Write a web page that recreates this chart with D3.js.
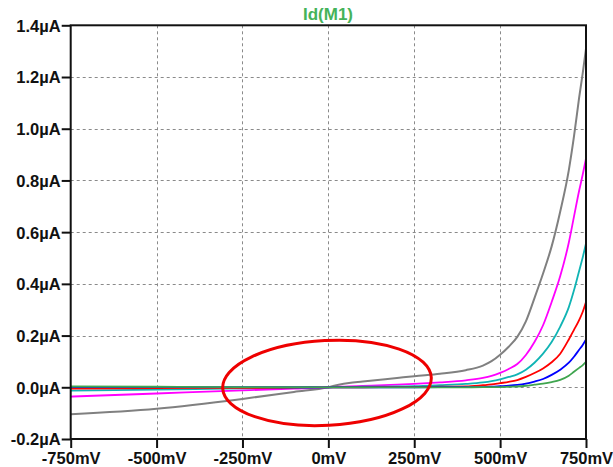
<!DOCTYPE html>
<html>
<head>
<meta charset="utf-8">
<script src="https://cdn.jsdelivr.net/npm/d3@7"></script>
<style>
  html, body { margin: 0; padding: 0; background: #fff; }
  svg { display: block; }
  .tick-label { font-family: "Liberation Sans", Arial, sans-serif; font-weight: bold; font-size: 16.5px; fill: #111; }
</style>
</head>
<body>
<svg id="chart" width="613" height="467"></svg>
<script>
// Sweep voltage (mV) shared by all traces
const vds = [-750, -500, -250, -100, 0, 30, 60, 100, 200, 250, 325, 400, 450, 475, 500, 525, 550, 575, 600, 625, 650, 675, 700, 715, 730, 740, 750];

// Drain current Id(M1) in µA, one array per stepped trace
const idGray    = [-0.104, -0.083, -0.045, -0.018, 0, 0.010, 0.017, 0.022, 0.036, 0.043, 0.052, 0.066, 0.084, 0.101, 0.126, 0.157, 0.195, 0.255, 0.345, 0.44, 0.545, 0.68, 0.84, 0.97, 1.12, 1.21, 1.31];
const idMagenta = [-0.036, -0.024, -0.012, -0.005, 0, 0.002, 0.003, 0.005, 0.010, 0.013, 0.019, 0.027, 0.036, 0.044, 0.056, 0.071, 0.090, 0.125, 0.175, 0.24, 0.33, 0.43, 0.56, 0.66, 0.76, 0.82, 0.885];
const idCyan    = [-0.013, -0.009, -0.004, -0.002, 0, 0.0005, 0.001, 0.002, 0.003, 0.004, 0.008, 0.013, 0.019, 0.024, 0.031, 0.040, 0.050, 0.068, 0.095, 0.13, 0.175, 0.235, 0.31, 0.375, 0.45, 0.50, 0.556];
const idRed     = [-0.005, -0.003, -0.002, -0.001, 0, 0, 0, 0, 0.001, 0.001, 0.002, 0.003, 0.008, 0.011, 0.016, 0.021, 0.028, 0.040, 0.055, 0.073, 0.097, 0.13, 0.185, 0.222, 0.26, 0.29, 0.33];
const idBlue    = [0.001, 0.001, 0.0005, 0.0002, 0, 0, 0, 0, 0, 0, 0.0003, 0.0005, 0.001, 0.002, 0.004, 0.006, 0.009, 0.014, 0.022, 0.032, 0.048, 0.068, 0.095, 0.118, 0.145, 0.163, 0.185];
const idGreen   = [0.003, 0.002, 0.001, 0.0005, 0, 0, 0, 0, 0, 0, 0, 0, 0.0005, 0.0008, 0.001, 0.002, 0.003, 0.006, 0.010, 0.014, 0.020, 0.029, 0.045, 0.060, 0.075, 0.085, 0.098];

const traceColors = ["#808080", "#ff00ff", "#10b4b4", "#ff0000", "#0000ff", "#3fa54f"];

// Axis ticks
const xTicks = [-750, -500, -250, 0, 250, 500, 750];
const xTickLabels = ["-750mV", "-500mV", "-250mV", "0mV", "250mV", "500mV", "750mV"];
const yTicks = [-0.2, 0.0, 0.2, 0.4, 0.6, 0.8, 1.0, 1.2, 1.4];
const yTickLabels = ["-0.2µA", "0.0µA", "0.2µA", "0.4µA", "0.6µA", "0.8µA", "1.0µA", "1.2µA", "1.4µA"];

const title = "Id(M1)";

// Highlight ellipse around the origin (data units)
const markCenter = [-4, 0.017];
const markRadii = [304, 0.164];
const markAngle = -3;

const svg = d3.select("#chart");
const plotLeft = 70.7, plotRight = 586, plotTop = 25.3, plotBottom = 439;

const x = d3.scaleLinear().domain([-750, 750]).range([plotLeft, plotRight]);
const y = d3.scaleLinear().domain([-0.2, 1.4]).range([plotBottom, plotTop]);

// Grid
const grid = svg.append("g").attr("stroke", "#8a8a8a").attr("stroke-width", 1).attr("stroke-dasharray", "3,3");
grid.selectAll("line.vx").data(xTicks.slice(1, -1)).enter().append("line")
  .attr("x1", d => Math.round(x(d)) + 0.5).attr("x2", d => Math.round(x(d)) + 0.5)
  .attr("y1", plotTop).attr("y2", plotBottom);
grid.selectAll("line.hy").data(yTicks.slice(1, -1)).enter().append("line")
  .attr("y1", d => Math.round(y(d)) + 0.5).attr("y2", d => Math.round(y(d)) + 0.5)
  .attr("x1", plotLeft).attr("x2", plotRight);

// Traces
const series = [idGray, idMagenta, idCyan, idRed, idBlue, idGreen];
const line = d3.line().x(d => x(d[0])).y(d => y(d[1])).curve(d3.curveMonotoneX);
const traces = svg.append("g").attr("fill", "none");
series.forEach((vals, i) => {
  traces.append("path")
    .attr("d", line(vds.map((v, k) => [v, vals[k]])))
    .attr("stroke", traceColors[i])
    .attr("stroke-width", i === 0 ? 2 : 1.8);
});

// Axes (ticks outside, labels bold)
const xAxis = d3.axisBottom(x).tickValues(xTicks).tickSize(9)
  .tickFormat((d, i) => xTickLabels[i]);
const gx = svg.append("g").attr("transform", `translate(0,${plotBottom})`).call(xAxis);
gx.select(".domain").remove();
gx.selectAll(".tick line").attr("stroke", "#111").attr("stroke-width", 2);
gx.selectAll(".tick text").attr("class", "tick-label").attr("y", 25).attr("dy", 0).attr("fill", null);

const yAxis = d3.axisLeft(y).tickValues(yTicks).tickSize(9).tickPadding(1)
  .tickFormat((d, i) => yTickLabels[i]);
const gy = svg.append("g").attr("transform", `translate(${plotLeft},0)`).call(yAxis);
gy.select(".domain").remove();
gy.selectAll(".tick line").attr("stroke", "#111").attr("stroke-width", 2);
gy.selectAll(".tick text").attr("class", "tick-label").attr("dy", "0.36em").attr("fill", null);

// Plot frame
svg.append("rect")
  .attr("x", plotLeft).attr("y", plotTop)
  .attr("width", plotRight - plotLeft).attr("height", plotBottom - plotTop)
  .attr("fill", "none").attr("stroke", "#111").attr("stroke-width", 2);

// Title
svg.append("text")
  .attr("x", 328).attr("y", 20)
  .attr("text-anchor", "middle")
  .attr("font-family", "Liberation Sans, Arial, sans-serif")
  .attr("font-weight", "bold").attr("font-size", 17)
  .attr("fill", "#45b35a")
  .text(title);

// Red ellipse annotation
const cx = x(markCenter[0]), cy = y(markCenter[1]);
const rx = x(markCenter[0] + markRadii[0]) - cx;
const ry = cy - y(markCenter[1] + markRadii[1]);
svg.append("ellipse")
  .attr("cx", cx).attr("cy", cy).attr("rx", rx).attr("ry", ry)
  .attr("transform", `rotate(${markAngle},${cx},${cy})`)
  .attr("fill", "none").attr("stroke", "#ee0000").attr("stroke-width", 3);
</script>
</body>
</html>
